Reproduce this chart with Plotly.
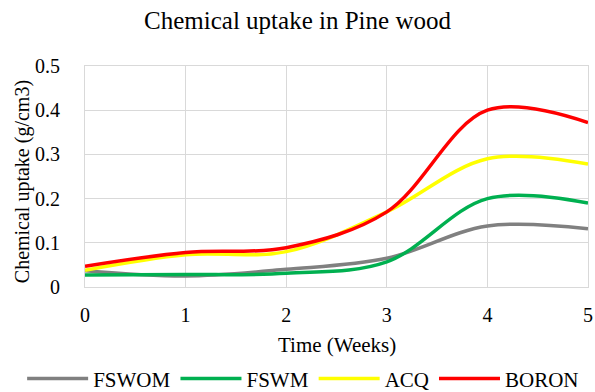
import plotly.graph_objects as go

weeks = [0, 1, 2, 3, 4, 5]
fswom = [0.037, 0.025, 0.040, 0.065, 0.138, 0.132]
fswm = [0.027, 0.028, 0.031, 0.057, 0.200, 0.190]
acq = [0.038, 0.073, 0.080, 0.170, 0.290, 0.278]
boron = [0.047, 0.078, 0.089, 0.170, 0.400, 0.372]

series = [("FSWOM", fswom, "#808080"), ("FSWM", fswm, "#00B050"),
          ("ACQ", acq, "#FFFF00"), ("BORON", boron, "#FF0000")]

font = "Liberation Serif"
fig = go.Figure()
for name, vals, col in series:
    fig.add_trace(go.Scatter(x=weeks, y=vals, name=name, mode="lines",
                             line=dict(color=col, width=3.5, shape="spline", smoothing=1.0)))

fig.update_layout(
    width=595, height=392,
    margin=dict(l=85, r=7, t=66, b=105, autoexpand=False),
    paper_bgcolor="white", plot_bgcolor="white",
    font=dict(family=font, size=20, color="#000000"),
    title=dict(text="Chemical uptake in Pine wood", x=0.5, xanchor="center",
               xref="container", yref="container",
               y=0.948, yanchor="middle", font=dict(size=25, family=font)),
    showlegend=True,
    legend=dict(orientation="h", x=-0.125, xanchor="left", xref="paper",
                yref="paper", y=-0.416, yanchor="middle", itemwidth=61,
                font=dict(size=21, family=font), tracegroupgap=0),
    annotations=[
        dict(text="Chemical uptake (g/cm3)", textangle=-90, showarrow=False,
             xref="paper", yref="paper", x=-0.124, y=0.477,
             xanchor="center", yanchor="middle", font=dict(size=20, family=font)),
        dict(text="Time (Weeks)", showarrow=False,
             xref="paper", yref="paper", x=0.5, y=-0.262,
             xanchor="center", yanchor="middle", font=dict(size=21, family=font)),
    ],
)
fig.update_xaxes(range=[0, 5], dtick=1, showgrid=True, gridcolor="#d9d9d9", gridwidth=1,
                 showline=True, linecolor="#d9d9d9", mirror=True, zeroline=False,
                 ticks="", ticklabelstandoff=10, automargin=False, tickfont=dict(size=20))
fig.update_yaxes(range=[0, 0.5], dtick=0.1, showgrid=True, gridcolor="#d9d9d9", gridwidth=1,
                 showline=True, linecolor="#d9d9d9", mirror=True, zeroline=False,
                 ticks="", ticklabelstandoff=20, tickformat=".1~f", automargin=False,
                 tickfont=dict(size=20))
fig.write_html("out.html")
